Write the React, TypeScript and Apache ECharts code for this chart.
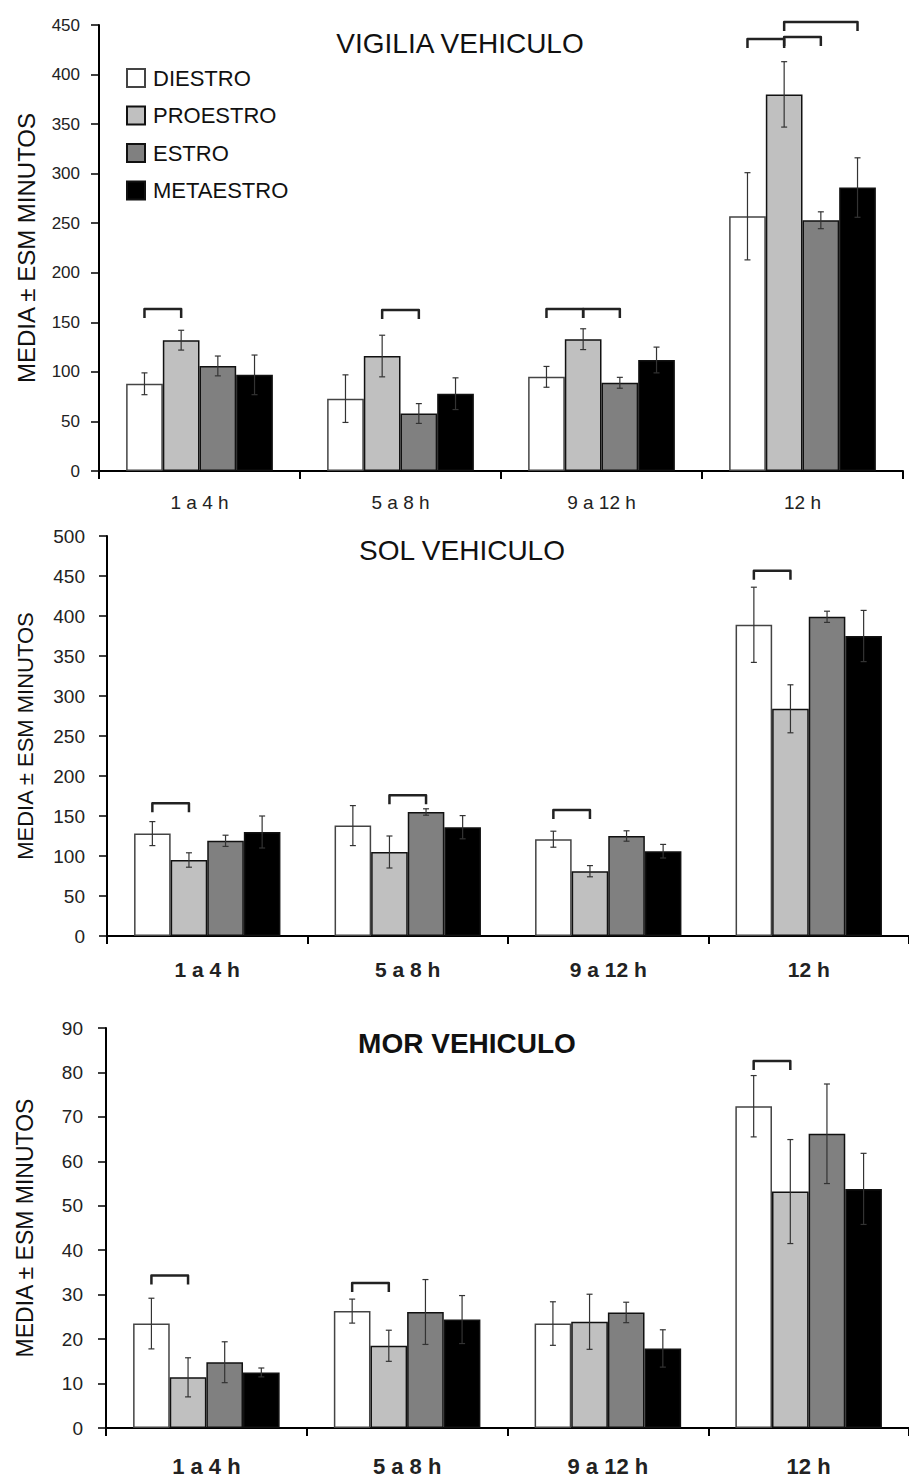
import React, { useEffect, useRef } from "react";
import * as echarts from "echarts";

const categories = ["1 a 4 h", "5 a 8 h", "9 a 12 h", "12 h"];
const seriesNames = ["DIESTRO", "PROESTRO", "ESTRO", "METAESTRO"];
const seriesColors = ["#ffffff", "#c0c0c0", "#808080", "#000000"];
const panelTitles = ["VIGILIA VEHICULO", "SOL VEHICULO", "MOR VEHICULO"];

// VIGILIA VEHICULO
const vigMeans = [
  [88, 73, 95, 257],
  [132, 116, 133, 380],
  [106, 58, 89, 253],
  [97, 78, 112, 286],
];
const vigErrs = [
  [11, 24, 10.5, 44],
  [10, 21, 10.5, 33],
  [10, 10, 5.5, 8.5],
  [20, 16, 13, 30],
];
// [category, barA, barB, level]
const vigBrackets = [
  [0, 0, 1, 163.5],
  [1, 1, 2, 162.5],
  [2, 0, 1, 163.5],
  [2, 1, 2, 163.5],
  [3, 0, 1, 436],
  [3, 1, 2, 438],
  [3, 1, 3, 453],
];

// SOL VEHICULO
const solMeans = [
  [128, 138, 121, 389],
  [95, 105, 81, 284],
  [119, 155, 125, 399],
  [130, 136, 106, 375],
];
const solErrs = [
  [15, 25, 10, 47],
  [9, 20, 7, 30],
  [7, 4, 6.5, 7],
  [20, 14.5, 8.5, 32],
];
const solBrackets = [
  [0, 0, 1, 166],
  [1, 1, 2, 176],
  [2, 0, 1, 157.5],
  [3, 0, 1, 456.6],
];

// MOR VEHICULO
const morMeans = [
  [23.5, 26.3, 23.5, 72.4],
  [11.4, 18.5, 23.9, 53.2],
  [14.8, 26.1, 26, 66.2],
  [12.5, 24.4, 17.9, 53.8],
];
const morErrs = [
  [5.7, 2.7, 4.9, 6.9],
  [4.4, 3.5, 6.2, 11.7],
  [4.6, 7.3, 2.3, 11.2],
  [1, 5.4, 4.2, 8],
];
const morBrackets = [
  [0, 0, 1, 34.3],
  [1, 0, 1, 32.6],
  [3, 0, 1, 82.6],
];

const yMax = [450, 500, 90];
const yInterval = [50, 50, 10];

const FONT = "'Liberation Sans', Arial, sans-serif";
const GROUP_FRACTION = 0.73;

function barCenter(api: any, cat: number, s: number) {
  const c = api.coord([cat, 0]);
  const catW = api.size([1, 0])[0];
  const gw = catW * GROUP_FRACTION;
  const bw = gw / 4;
  return c[0] - gw / 2 + bw * (s + 0.5);
}

export default function App() {
  const ref = useRef<HTMLDivElement>(null);

  useEffect(() => {
    document.body.style.margin = "0";
    if (!ref.current) return;
    const chart = echarts.init(ref.current, null, { renderer: "svg" });

    const panels = [
      { means: vigMeans, errs: vigErrs, brackets: vigBrackets },
      { means: solMeans, errs: solErrs, brackets: solBrackets },
      { means: morMeans, errs: morErrs, brackets: morBrackets },
    ];

    const grids = [
      { left: 99, width: 804, top: 25, height: 446 },
      { left: 107, width: 806, top: 536, height: 400 },
      { left: 106, width: 814, top: 1028, height: 400 },
    ];

    const tickFont = [17, 19, 19];
    const tickMargin = [19, 22, 23];
    const catFont = [19, 21, 22];
    const catWeight = ["normal", "bold", "bold"];
    const catMargin = [22, 23, 27];
    const nameFont = [24, 22, 23];
    const nameGap = [61, 71, 70];

    const xAxis = grids.map((_, i) => ({
      type: "category",
      gridIndex: i,
      data: categories,
      axisLine: { show: true, lineStyle: { color: "#000", width: 2 } },
      axisTick: { show: true, length: 8, lineStyle: { color: "#000", width: 2 } },
      axisLabel: {
        interval: 0,
        fontSize: catFont[i],
        fontWeight: catWeight[i],
        color: "#222",
        fontFamily: FONT,
        margin: catMargin[i],
      },
    }));

    const yAxis = grids.map((_, i) => ({
      type: "value",
      gridIndex: i,
      min: 0,
      max: yMax[i],
      interval: yInterval[i],
      name: "MEDIA ± ESM MINUTOS",
      nameLocation: "middle",
      nameGap: nameGap[i],
      nameTextStyle: { fontSize: nameFont[i], color: "#111", fontFamily: FONT },
      splitLine: { show: false },
      axisLine: { show: true, lineStyle: { color: "#000", width: 2 } },
      axisTick: { show: true, length: 8, lineStyle: { color: "#000", width: 1.5 } },
      axisLabel: {
        fontSize: tickFont[i],
        color: "#222",
        fontFamily: FONT,
        margin: tickMargin[i],
      },
    }));

    const series: any[] = [];
    panels.forEach((p, pi) => {
      seriesNames.forEach((name, si) => {
        series.push({
          type: "bar",
          name,
          xAxisIndex: pi,
          yAxisIndex: pi,
          data: p.means[si],
          barGap: "0%",
          barCategoryGap: "27%",
          itemStyle: {
            color: seriesColors[si],
            borderColor: si === 0 ? "#444" : "#111",
            borderWidth: 1.5,
          },
          z: 2,
        });
      });

      const errData: number[][] = [];
      p.means.forEach((arr, si) =>
        arr.forEach((m, ci) => errData.push([ci, si, m, p.errs[si][ci]]))
      );
      series.push({
        type: "custom",
        xAxisIndex: pi,
        yAxisIndex: pi,
        data: errData,
        encode: { x: 0, y: 2 },
        clip: false,
        z: 5,
        silent: true,
        renderItem: (params: any, api: any) => {
          const cat = api.value(0);
          const s = api.value(1);
          const m = api.value(2);
          const e = api.value(3);
          const x = barCenter(api, cat, s);
          const top = api.coord([cat, m + e])[1];
          const bot = api.coord([cat, m - e])[1];
          const st = { stroke: "#333", lineWidth: 1.2 };
          return {
            type: "group",
            children: [
              { type: "line", shape: { x1: x, y1: top, x2: x, y2: bot }, style: st },
              { type: "line", shape: { x1: x - 3, y1: top, x2: x + 3, y2: top }, style: st },
              { type: "line", shape: { x1: x - 3, y1: bot, x2: x + 3, y2: bot }, style: st },
            ],
          };
        },
      });

      series.push({
        type: "custom",
        xAxisIndex: pi,
        yAxisIndex: pi,
        data: p.brackets,
        encode: { x: 0, y: 3 },
        clip: false,
        z: 6,
        silent: true,
        renderItem: (params: any, api: any) => {
          const cat = api.value(0);
          const a = api.value(1);
          const b = api.value(2);
          const lvl = api.value(3);
          const xa = barCenter(api, cat, a);
          const xb = barCenter(api, cat, b);
          const y = api.coord([cat, lvl])[1];
          return {
            type: "polyline",
            shape: {
              points: [
                [xa, y + 9],
                [xa, y],
                [xb, y],
                [xb, y + 9],
              ],
            },
            style: { stroke: "#222", lineWidth: 2.5, fill: null, lineJoin: "round" },
          };
        },
      });
    });

    const option: any = {
      animation: false,
      backgroundColor: "#fff",
      textStyle: { fontFamily: FONT },
      grid: grids.map((g) => ({ ...g, containLabel: false })),
      xAxis,
      yAxis,
      legend: {
        orient: "vertical",
        left: 126,
        top: 67,
        padding: 0,
        itemWidth: 18,
        itemHeight: 18,
        itemGap: 15.5,
        icon: "rect",
        selectedMode: false,
        data: seriesNames,
        textStyle: {
          fontSize: 22,
          color: "#111",
          fontFamily: FONT,
          padding: [0, 0, 0, 3],
        },
      },
      graphic: [
        {
          type: "text",
          x: 460,
          y: 43,
          style: {
            text: panelTitles[0],
            fontSize: 28,
            fontFamily: FONT,
            fill: "#111",
            align: "center",
            verticalAlign: "middle",
          },
        },
        {
          type: "text",
          x: 462,
          y: 550,
          style: {
            text: panelTitles[1],
            fontSize: 28,
            fontFamily: FONT,
            fill: "#111",
            align: "center",
            verticalAlign: "middle",
          },
        },
        {
          type: "text",
          x: 467,
          y: 1043,
          style: {
            text: panelTitles[2],
            fontSize: 28,
            fontWeight: "bold",
            fontFamily: FONT,
            fill: "#111",
            align: "center",
            verticalAlign: "middle",
          },
        },
      ],
      series,
    };

    chart.setOption(option);
    return () => {
      chart.dispose();
    };
  }, []);

  return <div ref={ref} style={{ width: 909, height: 1477 }} />;
}
